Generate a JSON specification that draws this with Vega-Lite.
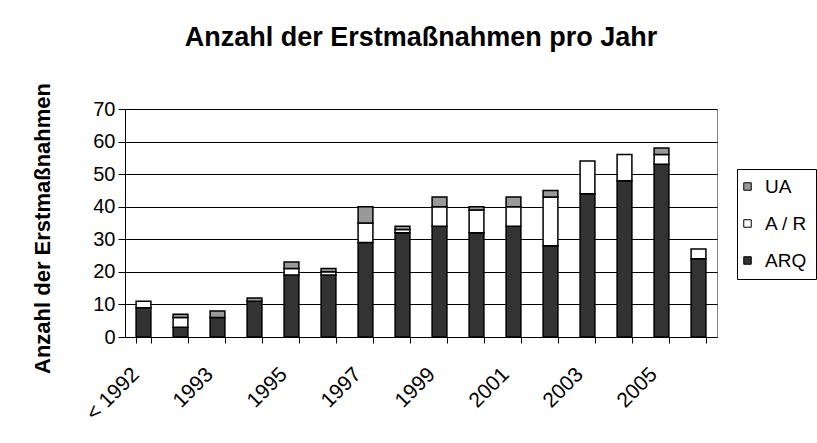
{
  "$schema": "https://vega.github.io/schema/vega-lite/v6.json",
  "width": 592,
  "height": 228,
  "autosize": {"type": "none"},
  "padding": {"left": 125, "top": 109, "right": 100, "bottom": 106},
  "background": "white",
  "title": {
    "text": "Anzahl der Erstmaßnahmen pro Jahr",
    "fontSize": 27,
    "fontWeight": "bold",
    "font": "Liberation Sans",
    "color": "black",
    "anchor": "middle",
    "baseline": "alphabetic",
    "offset": 10
  },
  "data": {
    "values": [
      {"Jahr": "< 1992", "Kategorie": "ARQ", "Anzahl": 9},
      {"Jahr": "< 1992", "Kategorie": "A / R", "Anzahl": 2},
      {"Jahr": "1992", "Kategorie": "ARQ", "Anzahl": 3},
      {"Jahr": "1992", "Kategorie": "A / R", "Anzahl": 3},
      {"Jahr": "1992", "Kategorie": "UA", "Anzahl": 1},
      {"Jahr": "1993", "Kategorie": "ARQ", "Anzahl": 6},
      {"Jahr": "1993", "Kategorie": "UA", "Anzahl": 2},
      {"Jahr": "1994", "Kategorie": "ARQ", "Anzahl": 11},
      {"Jahr": "1994", "Kategorie": "UA", "Anzahl": 1},
      {"Jahr": "1995", "Kategorie": "ARQ", "Anzahl": 19},
      {"Jahr": "1995", "Kategorie": "A / R", "Anzahl": 2},
      {"Jahr": "1995", "Kategorie": "UA", "Anzahl": 2},
      {"Jahr": "1996", "Kategorie": "ARQ", "Anzahl": 19},
      {"Jahr": "1996", "Kategorie": "A / R", "Anzahl": 1},
      {"Jahr": "1996", "Kategorie": "UA", "Anzahl": 1},
      {"Jahr": "1997", "Kategorie": "ARQ", "Anzahl": 29},
      {"Jahr": "1997", "Kategorie": "A / R", "Anzahl": 6},
      {"Jahr": "1997", "Kategorie": "UA", "Anzahl": 5},
      {"Jahr": "1998", "Kategorie": "ARQ", "Anzahl": 32},
      {"Jahr": "1998", "Kategorie": "A / R", "Anzahl": 1},
      {"Jahr": "1998", "Kategorie": "UA", "Anzahl": 1},
      {"Jahr": "1999", "Kategorie": "ARQ", "Anzahl": 34},
      {"Jahr": "1999", "Kategorie": "A / R", "Anzahl": 6},
      {"Jahr": "1999", "Kategorie": "UA", "Anzahl": 3},
      {"Jahr": "2000", "Kategorie": "ARQ", "Anzahl": 32},
      {"Jahr": "2000", "Kategorie": "A / R", "Anzahl": 7},
      {"Jahr": "2000", "Kategorie": "UA", "Anzahl": 1},
      {"Jahr": "2001", "Kategorie": "ARQ", "Anzahl": 34},
      {"Jahr": "2001", "Kategorie": "A / R", "Anzahl": 6},
      {"Jahr": "2001", "Kategorie": "UA", "Anzahl": 3},
      {"Jahr": "2002", "Kategorie": "ARQ", "Anzahl": 28},
      {"Jahr": "2002", "Kategorie": "A / R", "Anzahl": 15},
      {"Jahr": "2002", "Kategorie": "UA", "Anzahl": 2},
      {"Jahr": "2003", "Kategorie": "ARQ", "Anzahl": 44},
      {"Jahr": "2003", "Kategorie": "A / R", "Anzahl": 10},
      {"Jahr": "2004", "Kategorie": "ARQ", "Anzahl": 48},
      {"Jahr": "2004", "Kategorie": "A / R", "Anzahl": 8},
      {"Jahr": "2005", "Kategorie": "ARQ", "Anzahl": 53},
      {"Jahr": "2005", "Kategorie": "A / R", "Anzahl": 3},
      {"Jahr": "2005", "Kategorie": "UA", "Anzahl": 2},
      {"Jahr": "2006", "Kategorie": "ARQ", "Anzahl": 24},
      {"Jahr": "2006", "Kategorie": "A / R", "Anzahl": 3}
    ]
  },
  "transform": [
    {"calculate": "indexof(['ARQ','A / R','UA'], datum.Kategorie)", "as": "stapel"}
  ],
  "mark": {"type": "bar", "stroke": "black", "strokeWidth": 1.5},
  "encoding": {
    "x": {
      "field": "Jahr",
      "type": "nominal",
      "sort": ["< 1992", "1992", "1993", "1994", "1995", "1996", "1997", "1998", "1999", "2000", "2001", "2002", "2003", "2004", "2005", "2006"],
      "scale": {"paddingInner": 0.6, "paddingOuter": 0.3},
      "axis": {
        "title": null,
        "tickBand": "extent",
        "labelAngle": -45,
        "labelAlign": "right",
        "labelBaseline": "middle",
        "labelFontSize": 21,
        "labelFont": "Liberation Sans",
        "labelColor": "black",
        "labelPadding": 28,
        "labelOffset": -8,
        "tickColor": "black",
        "tickSize": 6,
        "domainColor": "black",
        "grid": false,
        "labelExpr": "indexof(['1992','1994','1996','1998','2000','2002','2004','2006'], datum.value) >= 0 ? '' : datum.value"
      }
    },
    "y": {
      "field": "Anzahl",
      "type": "quantitative",
      "stack": "zero",
      "scale": {"domain": [0, 70], "nice": false},
      "axis": {
        "title": "Anzahl der Erstmaßnahmen",
        "titleFontSize": 22,
        "titleFontWeight": "bold",
        "titleFont": "Liberation Sans",
        "titleColor": "black",
        "titleAngle": 270,
        "titleX": -83,
        "titleY": 119,
        "titleAlign": "center",
        "titleBaseline": "middle",
        "values": [0, 10, 20, 30, 40, 50, 60, 70],
        "grid": true,
        "gridColor": "black",
        "gridOpacity": 1,
        "tickColor": "black",
        "tickSize": 7,
        "domainColor": "black",
        "labelFontSize": 20,
        "labelFont": "Liberation Sans",
        "labelColor": "black",
        "labelPadding": 3
      }
    },
    "color": {
      "field": "Kategorie",
      "type": "nominal",
      "scale": {"domain": ["UA", "A / R", "ARQ"], "range": ["#999999", "#ffffff", "#333333"]},
      "legend": {
        "title": null,
        "orient": "none",
        "legendX": 612,
        "legendY": 60,
        "strokeColor": "black",
        "fillColor": "white",
        "padding": 8,
        "symbolType": "square",
        "symbolSize": 56,
        "symbolStrokeColor": "black",
        "symbolStrokeWidth": 1,
        "symbolOpacity": 1,
        "symbolOffset": -7,
        "labelFontSize": 19,
        "labelFont": "Liberation Sans",
        "labelColor": "black",
        "labelOffset": 8,
        "rowPadding": 17
      }
    },
    "order": {"field": "stapel", "type": "quantitative"}
  },
  "config": {
    "view": {"stroke": "#808080", "strokeWidth": 1},
    "font": "Liberation Sans"
  }
}
